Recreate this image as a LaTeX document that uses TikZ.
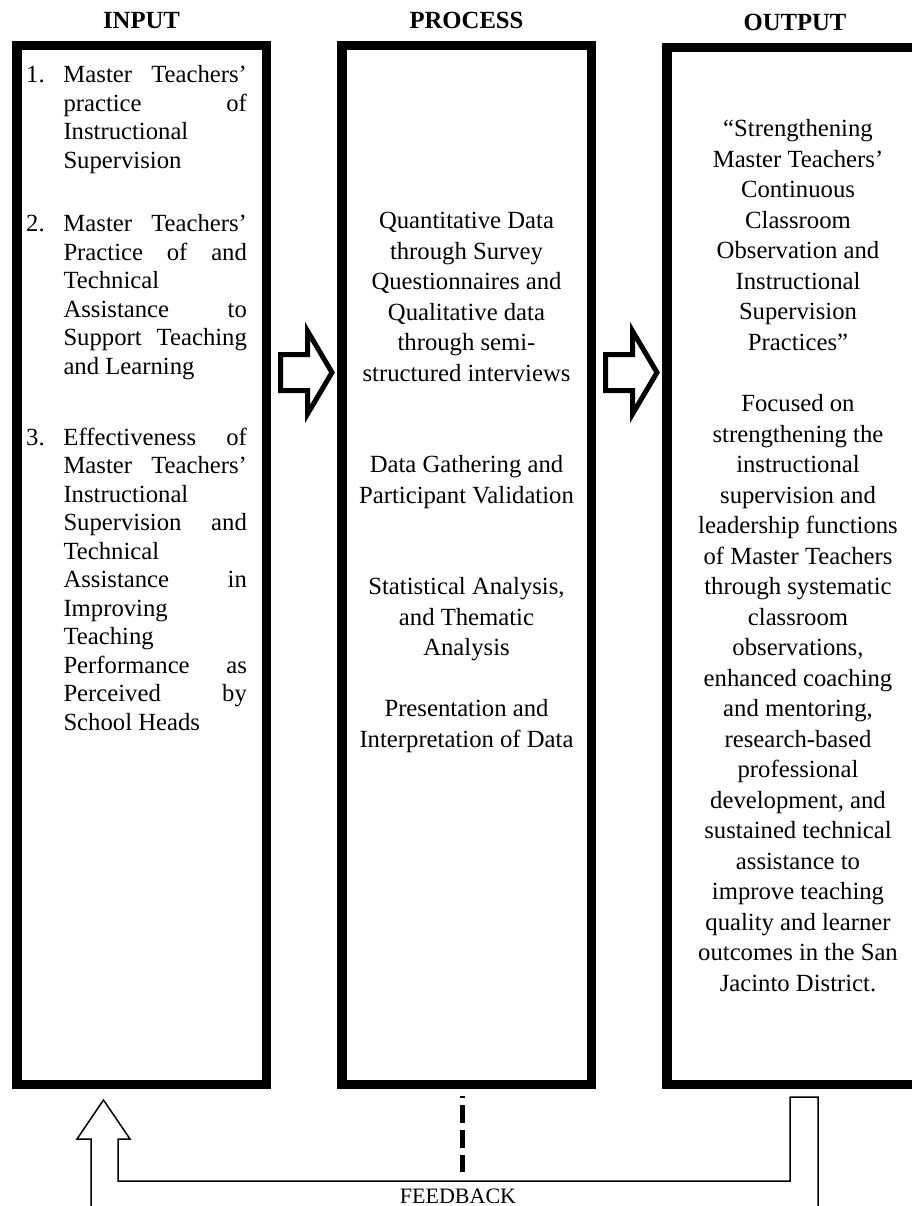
\documentclass[tikz,border=0pt]{standalone}
\usepackage{fontspec}
\setmainfont{Liberation Serif}

\tikzset{
  colbox/.style={draw, line width=9.5pt, minimum width=249.5pt, minimum height=1038.5pt, inner sep=0pt},
  heading/.style={anchor=base, font=\fontsize{24.7}{28.5}\selectfont\bfseries, inner sep=0pt},
  textblock/.style={anchor=base, inner sep=0pt},
  blockarrow/.style={draw, line width=5pt, fill=white, line join=miter},
  fbline/.style={line width=1.5pt, line join=miter},
}

% one justified line of the input list
\newcommand{\jline}[1]{\makebox[\linewidth][s]{#1}}
% numbered item of the input list
\newcommand{\initem}[2]{\makebox[37.3pt][l]{#1}\parbox[t]{183.4pt}{#2}}
% centred lines for the process and output columns
\newcommand{\centrelines}[1]{\parbox[t]{230pt}{\centering\fontsize{24.7}{30.5}\selectfont #1}}

\begin{document}
\begin{tikzpicture}[x=1pt, y=-1pt, font=\fontsize{24.7}{28.5}\selectfont]
        \useasboundingbox (0,0) rectangle (912,1206);

        % Column headings
        \node[heading] (inhead) at (141.5,28.3) {INPUT};
        \node[heading] (prochead) at (466.5,28.3) {PROCESS};
        \node[heading] (outhead) at (795,30.5) {OUTPUT};

        % Column boxes
        \node[colbox] (inbox) at (141.5,565) {};
        \node[colbox] (procbox) at (466.5,565) {};
        \draw[line width=9.5pt] (912,47.75) -- (666.75,47.75) -- (666.75,1084.25) -- (912,1084.25);

        % Input list
        \node[textblock, anchor=base west] (initem1) at (26,83) {\initem{1.}{\jline{Master Teachers’}\\
            \jline{practice of}\\ Instructional\\ Supervision}};
        \node[textblock, anchor=base west] (initem2) at (26,232) {\initem{2.}{\jline{Master Teachers’}\\
            \jline{Practice of and}\\ Technical\\ \jline{Assistance to}\\ \jline{Support Teaching}\\ and Learning}};
        \node[textblock, anchor=base west] (initem3) at (26,445) {\initem{3.}{\jline{Effectiveness of}\\
            \jline{Master Teachers’}\\ Instructional\\ \jline{Supervision and}\\ Technical\\ \jline{Assistance in}\\
            Improving\\ Teaching\\ \jline{Performance as}\\ \jline{Perceived by}\\ School Heads}};

        % Process steps
        \node[textblock] (proc1) at (466.5,229) {\centrelines{Quantitative Data\\ through Survey\\ Questionnaires and\\
            Qualitative data\\ through semi-\\ structured interviews}};
        \node[textblock] (proc2) at (466.5,472.7) {\centrelines{Data Gathering and\\ Participant Validation}};
        \node[textblock] (proc3) at (466.5,594.7) {\centrelines{Statistical Analysis,\\ and Thematic\\ Analysis}};
        \node[textblock] (proc4) at (466.5,716.7) {\centrelines{Presentation and\\ Interpretation of Data}};

        % Output
        \node[textblock] (outtitle) at (798,136.7) {\centrelines{“Strengthening\\ Master Teachers’\\ Continuous\\
            Classroom\\ Observation and\\ Instructional\\ Supervision\\ Practices”}};
        \node[textblock] (outtext) at (798,411.7) {\centrelines{Focused on\\ strengthening the\\ instructional\\
            supervision and\\ leadership functions\\ of Master Teachers\\ through systematic\\ classroom\\
            observations,\\ enhanced coaching\\ and mentoring,\\ research-based\\ professional\\
            development, and\\ sustained technical\\ assistance to\\ improve teaching\\ quality and learner\\
            outcomes in the San\\ Jacinto District.}};

        % Block arrows between the columns
        \foreach \ax in {280.5,605.5} {
            \draw[blockarrow] (\ax,354.5) -- ({\ax+27},354.5) -- ({\ax+27},331) -- ({\ax+51.5},372.5)
                -- ({\ax+27},414) -- ({\ax+27},390.5) -- (\ax,390.5) -- cycle;
        }

        % Feedback loop
        \coordinate (fbstart) at (818,1206);
        \coordinate (fbend) at (91,1206);
        \draw[fbline] (fbstart) -- (818,1097) -- (790,1097) -- (790,1181) -- (118,1181) -- (118,1139)
            -- (130,1139) -- (103.5,1100) -- (77,1139) -- (91,1139) -- (fbend);
        \coordinate (dashtop) at (462,1096);
        \coordinate (dashbot) at (462,1172);
        \draw[line width=5pt, dash pattern=on 18pt off 7pt, dash phase=16pt] (dashtop) -- (dashbot);
        \node[textblock, font=\fontsize{22}{26}\selectfont] (fbtext) at (458,1203) {FEEDBACK};
    \end{tikzpicture}
\end{document}
